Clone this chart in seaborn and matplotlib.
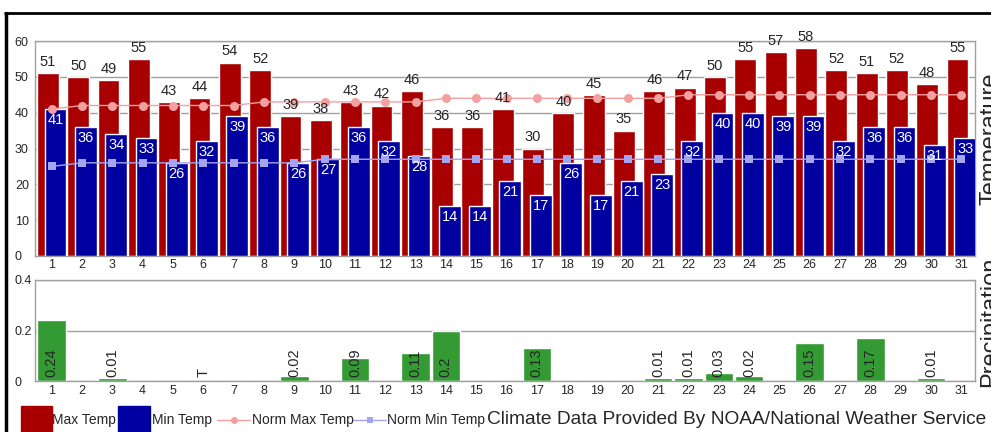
import numpy as np
import pandas as pd
import matplotlib
matplotlib.use('Agg')
import matplotlib.pyplot as plt
from matplotlib.patches import Rectangle
from matplotlib.lines import Line2D
import seaborn as sns

sns.set_style('white')
plt.rcParams['font.family'] = ['Liberation Sans', 'DejaVu Sans']

# Daily climate data for the month
days = np.arange(1, 32)
max_temp = [51, 50, 49, 55, 43, 44, 54, 52, 39, 38, 43, 42, 46, 36, 36, 41,
            30, 40, 45, 35, 46, 47, 50, 55, 57, 58, 52, 51, 52, 48, 55]
min_temp = [41, 36, 34, 33, 26, 32, 39, 36, 26, 27, 36, 32, 28, 14, 14, 21,
            17, 26, 17, 21, 23, 32, 40, 40, 39, 39, 32, 36, 36, 31, 33]
norm_max = [41, 42, 42, 42, 42, 42, 42, 43, 43, 43, 43, 43, 43, 44, 44, 44,
            44, 44, 44, 44, 44, 45, 45, 45, 45, 45, 45, 45, 45, 45, 45]
norm_min = [25, 26, 26, 26, 26, 26, 26, 26, 26, 27, 27, 27, 27, 27, 27, 27,
            27, 27, 27, 27, 27, 27, 27, 27, 27, 27, 27, 27, 27, 27, 27]
precip = [0.24, 0, 0.01, 0, 0, 0, 0, 0, 0.02, 0, 0.09, 0, 0.11, 0.2, 0, 0,
          0.13, 0, 0, 0, 0.01, 0.01, 0.03, 0.02, 0, 0.15, 0, 0.17, 0, 0.01, 0]
precip_labels = ['0.24', '', '0.01', '', '', 'T', '', '', '0.02', '', '0.09', '',
                 '0.11', '0.2', '', '', '0.13', '', '', '', '0.01', '0.01', '0.03',
                 '0.02', '', '0.15', '', '0.17', '', '0.01', '']

RED = '#a80000'
BLUE = '#0000a0'
GREEN = '#349a34'
PINK = '#f2a0a0'
LAV = '#a4a4f0'
GRID = '#a0a0a0'
TXT = '#262626'

df = pd.DataFrame({'day': days, 'max': max_temp, 'min': min_temp,
                   'nmax': norm_max, 'nmin': norm_min, 'prcp': precip})

W, H = 991, 432
fig = plt.figure(figsize=(W / 100, H / 100), dpi=100)
ax = fig.add_axes([35 / W, 1 - 256 / H, 940 / W, 215 / H])
ax2 = fig.add_axes([35 / W, 1 - 381 / H, 940 / W, 101 / H])

# temperature bars, max slightly left and min slightly right of the day tick
off = 0.125
sns.barplot(x=df['day'] - off, y=df['max'], native_scale=True, width=0.72,
            color=RED, saturation=1, ax=ax, zorder=2)
sns.barplot(x=df['day'] + off, y=df['min'], native_scale=True, width=0.72,
            color=BLUE, saturation=1, ax=ax, zorder=3)
sns.lineplot(x=df['day'], y=df['nmax'], color=PINK, marker='o', markersize=6.5,
             markeredgewidth=0, linewidth=1, ax=ax, zorder=4)
sns.lineplot(x=df['day'], y=df['nmin'], color=LAV, marker='s', markersize=6,
             markeredgewidth=0, linewidth=1, ax=ax, zorder=4)

for d, hi, lo in zip(days, max_temp, min_temp):
    ax.annotate(str(hi), (d - off, hi), xytext=(0, 8), textcoords='offset points',
                ha='center', va='center', fontsize=10.5, color=TXT, zorder=6)
    ax.annotate(str(lo), (d + off, lo), xytext=(0, -8), textcoords='offset points',
                ha='center', va='center', fontsize=10.5, color='white', zorder=6)

ax.set_xlim(0.45, 31.45)
ax.set_ylim(0, 60)
ax.set_yticks([0, 10, 20, 30, 40, 50, 60])
ax.set_xticks(days)
ax.set_xticklabels([str(d) for d in days])
ax.set_xlabel('')
ax.set_ylabel('')

# precipitation bars
sns.barplot(x=df['day'], y=df['prcp'], native_scale=True, width=0.94,
            color=GREEN, saturation=1, ax=ax2, zorder=2)
for d, lab in zip(days, precip_labels):
    if lab:
        ax2.annotate(lab, (d, 0), xytext=(0, 3), textcoords='offset points',
                     ha='center', va='bottom', rotation=90, fontsize=10.5,
                     color=TXT, zorder=6)
ax2.set_xlim(0.45, 31.45)
ax2.set_ylim(0, 0.4)
ax2.set_yticks([0, 0.2, 0.4])
ax2.set_yticklabels(['0', '0.2', '0.4'])
ax2.set_xticks(days)
ax2.set_xticklabels([str(d) for d in days])
ax2.set_xlabel('')
ax2.set_ylabel('')

for a, xpad in ((ax, 2), (ax2, 3)):
    a.grid(axis='y', color=GRID, linewidth=1, zorder=0)
    a.set_axisbelow(True)
    for s in a.spines.values():
        s.set_color(GRID)
        s.set_linewidth(1)
    a.tick_params(axis='y', length=0, pad=14.5, labelsize=9, labelcolor=TXT)
    a.tick_params(axis='x', length=0, pad=xpad, labelsize=9, labelcolor=TXT)
    for t in a.get_yticklabels():
        t.set_ha('left')

# side titles (run off the right edge, as in the original page)
fig.text(979 / W, 1 - 139 / H, 'Temperature', rotation=90, ha='left', va='center',
         fontsize=17, color=TXT)
fig.text(979 / W, 1 - 322 / H, 'Precipitation', rotation=90, ha='left', va='center',
         fontsize=17, color=TXT)

# legend along the bottom
ly = 1 - 420 / H
fig.patches.append(Rectangle((21 / W, 0), 31 / W, 26 / H, color=RED,
                             transform=fig.transFigure, figure=fig))
fig.text(52 / W, ly, 'Max Temp', ha='left', va='center', fontsize=10, color=TXT)
fig.patches.append(Rectangle((118 / W, 0), 32 / W, 26 / H, color=BLUE,
                             transform=fig.transFigure, figure=fig))
fig.text(152 / W, ly, 'Min Temp', ha='left', va='center', fontsize=10, color=TXT)
fig.lines.append(Line2D([217 / W, 250 / W], [ly, ly], color=PINK, lw=1,
                        transform=fig.transFigure))
fig.lines.append(Line2D([233.5 / W], [ly], color=PINK, marker='o', markersize=5,
                        markeredgewidth=0, transform=fig.transFigure))
fig.text(252 / W, ly, 'Norm Max Temp', ha='left', va='center', fontsize=10, color=TXT)
fig.lines.append(Line2D([353 / W, 386 / W], [ly, ly], color=LAV, lw=1,
                        transform=fig.transFigure))
fig.lines.append(Line2D([369.5 / W], [ly], color=LAV, marker='s', markersize=4.5,
                        markeredgewidth=0, transform=fig.transFigure))
fig.text(387 / W, ly, 'Norm Min Temp', ha='left', va='center', fontsize=10, color=TXT)
fig.text(487 / W, ly, 'Climate Data Provided By NOAA/National Weather Service',
         ha='left', va='center', fontsize=13.8, color=TXT)

# black frame on top and left
fig.lines.append(Line2D([5 / W, 1], [1 - 13 / H, 1 - 13 / H], color='black', lw=2,
                        transform=fig.transFigure))
fig.lines.append(Line2D([6 / W, 6 / W], [0, 1 - 13 / H], color='black', lw=2.5,
                        transform=fig.transFigure))

fig.savefig('out.png', dpi=100, facecolor='white')
